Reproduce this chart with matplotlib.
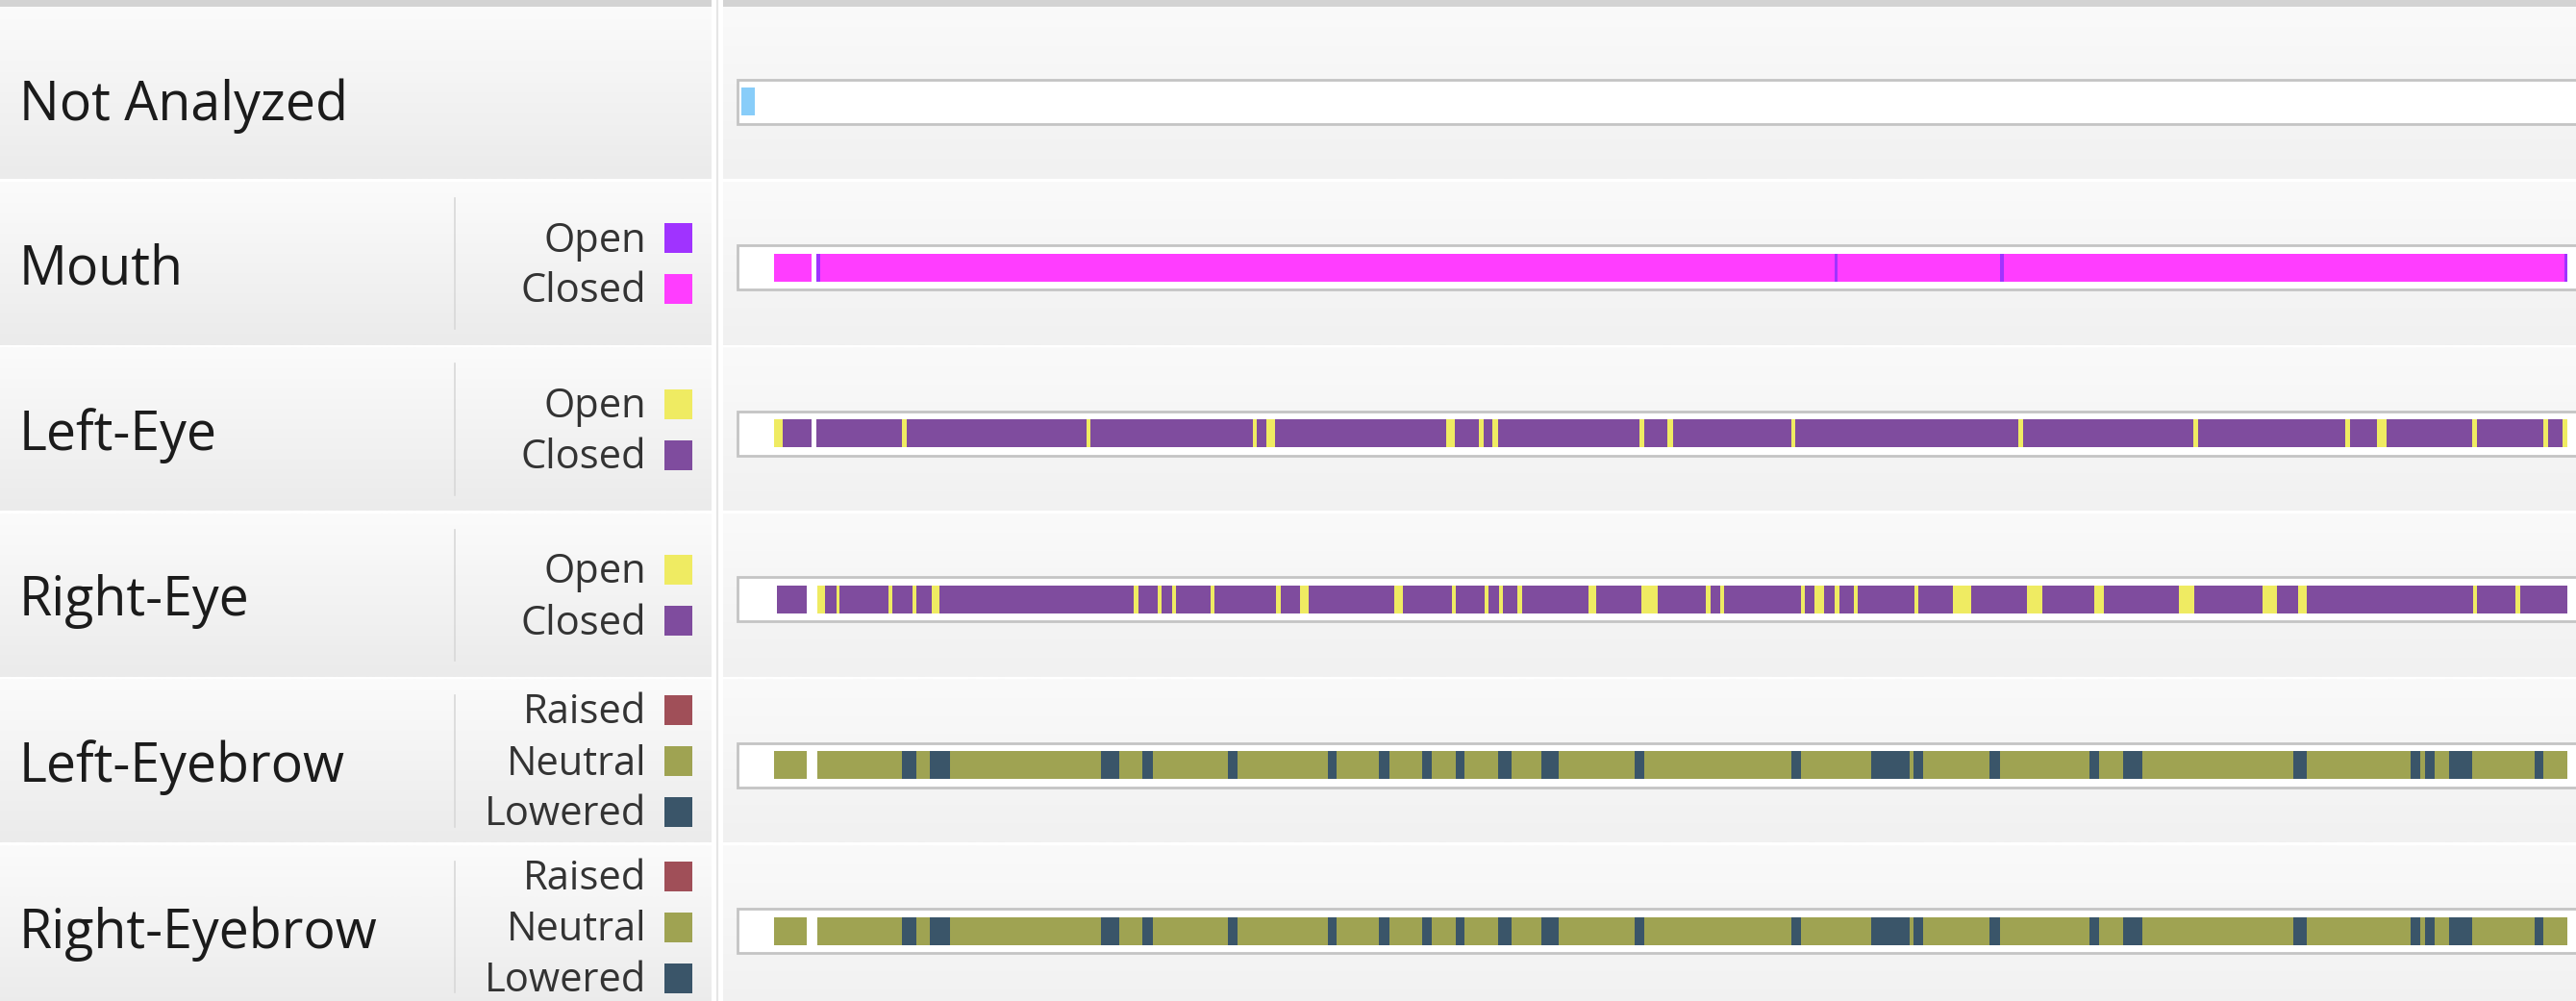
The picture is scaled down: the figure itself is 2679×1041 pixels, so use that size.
import numpy as np
import matplotlib.pyplot as plt
from matplotlib.patches import Rectangle
from matplotlib.colors import LinearSegmentedColormap

plt.rcParams['font.family'] = ['Open Sans', 'DejaVu Sans']

# ---- data: time in seconds, each track = segment edges + one state code per segment
# '-' means no face found in that span
track_names = ['Not Analyzed', 'Mouth', 'Left-Eye', 'Right-Eye', 'Left-Eyebrow', 'Right-Eyebrow']

not_analyzed_edges = [0.0, 1.4]
not_analyzed_states = 'X'

mouth_edges = [3.35, 7.25, 7.75, 8.2, 113.7, 114.0, 130.9, 131.3, 189.6, 189.9]
mouth_states = 'C-OCOCOCO'

left_eye_edges = [3.35, 4.34, 7.25, 7.75, 16.65, 17.15, 35.9, 36.3, 53.15, 53.6,
                  54.6, 55.5, 73.25, 74.2, 76.7, 77.15, 78.1, 78.7, 93.35, 93.85,
                  96.25, 96.85, 109.15, 109.6, 132.8, 133.25, 151.0, 151.45, 166.75, 167.25,
                  170.1, 171.05, 180.0, 180.5, 187.35, 187.85, 189.4, 189.9]
left_eye_states = ('OC-' 'COCOCOCOCOCOCOCOCOCO' 'COCOCOCOCOCOCO')

right_eye_edges = [3.7, 6.8, 7.87, 8.67, 9.9, 10.2, 15.3, 15.7, 17.77, 18.2,
                   19.75, 20.55, 40.84, 41.27, 43.25, 43.7, 44.8, 45.23, 48.76, 49.2,
                   55.6, 56.06, 58.1, 59.03, 67.87, 68.8, 73.88, 74.25, 77.34, 77.7,
                   78.8, 79.2, 80.68, 81.17, 88.1, 88.9, 93.55, 95.33, 100.28, 100.83,
                   101.8, 102.24, 110.2, 110.6, 111.6, 112.64, 113.68, 114.17, 115.7, 116.1,
                   122.0, 122.4, 125.97, 127.9, 133.7, 135.26, 140.65, 141.7, 149.5, 151.05,
                   158.2, 159.7, 161.87, 162.8, 180.1, 180.5, 184.5, 185.0, 189.9]
right_eye_states = ('C-' 'OCOCOCOCOCOCOCOCOCOC' 'OCOCOCOCOCOCOCOCOCOC'
                    'OCOCOCOCOCOCOCOCOCOC' 'OCOCOC')

left_brow_edges = [3.35, 6.8, 7.87, 16.65, 18.2, 19.6, 21.66, 37.38, 39.3, 41.7,
                   42.76, 50.55, 51.6, 60.95, 61.87, 66.3, 67.38, 70.78, 71.77, 74.25,
                   75.17, 78.7, 80.1, 83.15, 85.0, 92.9, 93.86, 109.15, 110.2, 117.5,
                   121.5, 121.9, 122.9, 129.76, 130.86, 140.16, 141.2, 143.65, 145.66, 161.38,
                   162.79, 173.6, 174.6, 175.1, 176.1, 177.6, 180.0, 186.46, 187.44, 189.9]
left_brow_states = ('N-' 'NLNLNLNLNLNLNLNLNLNL' 'NLNLNLNLNLNLNLNLNLNL' 'NLNLNL' 'N')

right_brow_edges = [3.35, 6.8, 7.87, 16.65, 18.2, 19.6, 21.66, 37.38, 39.3, 41.7,
                    42.76, 50.55, 51.6, 60.95, 61.87, 66.3, 67.38, 70.78, 71.77, 74.25,
                    75.17, 78.7, 80.1, 83.15, 85.0, 92.9, 93.86, 109.15, 110.2, 117.5,
                    121.5, 121.9, 122.9, 129.76, 130.86, 140.16, 141.2, 143.65, 145.66, 161.38,
                    162.79, 173.6, 174.6, 175.1, 176.1, 177.6, 180.0, 186.46, 187.44, 189.9]
right_brow_states = ('N-' 'NLNLNLNLNLNLNLNLNLNL' 'NLNLNLNLNLNLNLNLNLNL' 'NLNLNL' 'N')

mouth_legend = ['Open', 'Closed']
eye_legend = ['Open', 'Closed']
brow_legend = ['Raised', 'Neutral', 'Lowered']

# colours
na_colors = {'X': '#88cdf9'}
mouth_colors = {'O': '#a033ff', 'C': '#ff3dff'}
eye_colors = {'O': '#efeb62', 'C': '#7f4c9e'}
brow_colors = {'R': '#a04f58', 'N': '#9fa352', 'L': '#3a5569'}

tracks = [
    (not_analyzed_edges, not_analyzed_states, na_colors, [], []),
    (mouth_edges, mouth_states, mouth_colors, mouth_legend, ['O', 'C']),
    (left_eye_edges, left_eye_states, eye_colors, eye_legend, ['O', 'C']),
    (right_eye_edges, right_eye_states, eye_colors, eye_legend, ['O', 'C']),
    (left_brow_edges, left_brow_states, brow_colors, brow_legend, ['R', 'N', 'L']),
    (right_brow_edges, right_brow_states, brow_colors, brow_legend, ['R', 'N', 'L']),
]

# ---- layout (pixels)
W, H = 2679, 1041
ROW0 = 105.5      # centre of first bar
ROW_H = 172.5
LEFT_W = 740
TRACK_X = 752

fig = plt.figure(figsize=(W / 100, H / 100), dpi=100)
fig.patch.set_facecolor('white')

bg = fig.add_axes([0, 0, 1, 1])
bg.set_xlim(0, W)
bg.set_ylim(H, 0)
bg.axis('off')

left_cmap = LinearSegmentedColormap.from_list('l', ['#fbfbfb', '#ebebeb'])
track_cmap = LinearSegmentedColormap.from_list('t', ['#fafafa', '#f1f1f1'])
grad = np.linspace(0, 1, 64).reshape(-1, 1)

row_edges = [6.6] + [ROW0 + ROW_H * (i + 0.5) - 4 for i in range(6)]
for i, (top, bot) in enumerate(zip(row_edges[:-1], row_edges[1:])):
    bg.imshow(grad, cmap=left_cmap, extent=(0, LEFT_W, bot - 1.5, top + 1.5),
              aspect='auto', interpolation='bilinear')
    bg.imshow(grad, cmap=track_cmap, extent=(TRACK_X, W, bot - 1.5, top + 1.5),
              aspect='auto', interpolation='bilinear')
    if i > 0:
        bg.plot([473, 473], [top + 18, bot - 18], color='#d8d8d8', lw=1.2)

bg.add_patch(Rectangle((0, 0), LEFT_W, 6.6, color='#d3d3d3', lw=0))
bg.add_patch(Rectangle((TRACK_X, 0), W - TRACK_X, 6.6, color='#d3d3d3', lw=0))
bg.plot([746, 746], [0, H], color='#e6e6e6', lw=1.5)
bg.set_xlim(0, W)
bg.set_ylim(H, 0)

# ---- labels and legends
for i, (name, tr) in enumerate(zip(track_names, tracks)):
    yc = ROW0 + ROW_H * i
    bg.text(20, yc + (5 if i == 0 else 3), name, fontsize=40, color='#1b1b1b',
            va='center', ha='left')
    labels, codes, colors = tr[3], tr[4], tr[2]
    n = len(labels)
    for k, (lab, code) in enumerate(zip(labels, codes)):
        yk = yc - 4 + (k - (n - 1) / 2) * 53
        bg.text(672, yk + 3, lab, fontsize=30, color='#333333', va='center', ha='right')
        bg.add_patch(Rectangle((691, yk - 15.5), 29, 31, color=colors[code], lw=0))

# ---- tracks
ax = fig.add_axes([TRACK_X / W, 0, 1 - TRACK_X / W, 1])
ax.set_xlim((TRACK_X - 771) / 10, (W - 771) / 10)
ax.set_ylim((H - ROW0) / ROW_H, -ROW0 / ROW_H)
ax.axis('off')
ax.patch.set_alpha(0)

outer_h = 46 / ROW_H
inner_h = 29 / ROW_H
for i, (edges, states, colors, _, _) in enumerate(tracks):
    ax.add_patch(Rectangle((-0.4, i - outer_h / 2), 200, outer_h,
                           facecolor='white', edgecolor='#c4c4c4', lw=2.0))
    for s in set(states) - {'-'}:
        segs = [(a, b - a) for a, b, st in zip(edges[:-1], edges[1:], states) if st == s]
        ax.broken_barh(segs, (i - inner_h / 2, inner_h), facecolors=colors[s], lw=0)

fig.savefig('out.png', dpi=100)
